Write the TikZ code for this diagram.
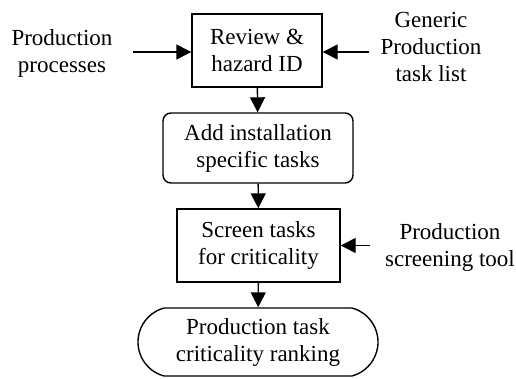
\documentclass[tikz,border=0pt]{standalone}
\usepackage{fontspec}
\setmainfont{Liberation Serif}
\usepackage{tikz}
\usetikzlibrary{arrows.meta, shapes.misc}

\begin{document}
\begin{tikzpicture}[x=1pt, y=-1pt,
    font=\fontsize{23}{27}\selectfont,
    stepbox/.style={draw, line width=1.4pt, align=center, inner sep=0pt},
    flow/.style={line width=1.4pt, -{Triangle[length=15pt, width=15pt]}},
    sidetext/.style={align=center, inner sep=0pt}]

    % ==========================================
    % FRAME
    % ==========================================
    \useasboundingbox (0,0) rectangle (516,378);

    % ==========================================
    % MAIN STEPS
    % ==========================================
    \node[stepbox, minimum width=130pt, minimum height=73pt] (review) at (257,50.5) {Review \&\\hazard ID};
    \node[stepbox, rounded corners=8pt, minimum width=190pt, minimum height=70pt] (install) at (258,148) {Add installation\\specific tasks};
    \node[stepbox, minimum width=163pt, minimum height=73pt] (screen) at (258.5,245.5) {Screen tasks\\for criticality};
    \node[stepbox, rounded rectangle, rounded rectangle arc length=150, minimum width=240pt, minimum height=68pt] (ranking) at (258,342) {Production task\\criticality ranking};

    % ==========================================
    % INPUTS
    % ==========================================
    \node[sidetext] (procs) at (62,53) {Production\\processes};
    \node[sidetext] (generic) at (431,47) {Generic\\Production\\task list};
    \node[sidetext] (tool) at (450,247) {Production\\screening tool};

    % Tails of the side arrows
    \coordinate (procsTail) at (133,52);
    \coordinate (genericTail) at (369,52);
    \coordinate (toolTail) at (370,245.5);

    % ==========================================
    % CONNECTORS
    % ==========================================
    \draw[flow] (review) -- (install);
    \draw[flow] (install) -- (screen);
    \draw[flow] (screen) -- (ranking);

    \draw[flow] (procsTail) -- (review.west |- procsTail);
    \draw[flow] (genericTail) -- (review.east |- genericTail);
    \draw[flow] (toolTail) -- (screen.east |- toolTail);

\end{tikzpicture}
\end{document}
